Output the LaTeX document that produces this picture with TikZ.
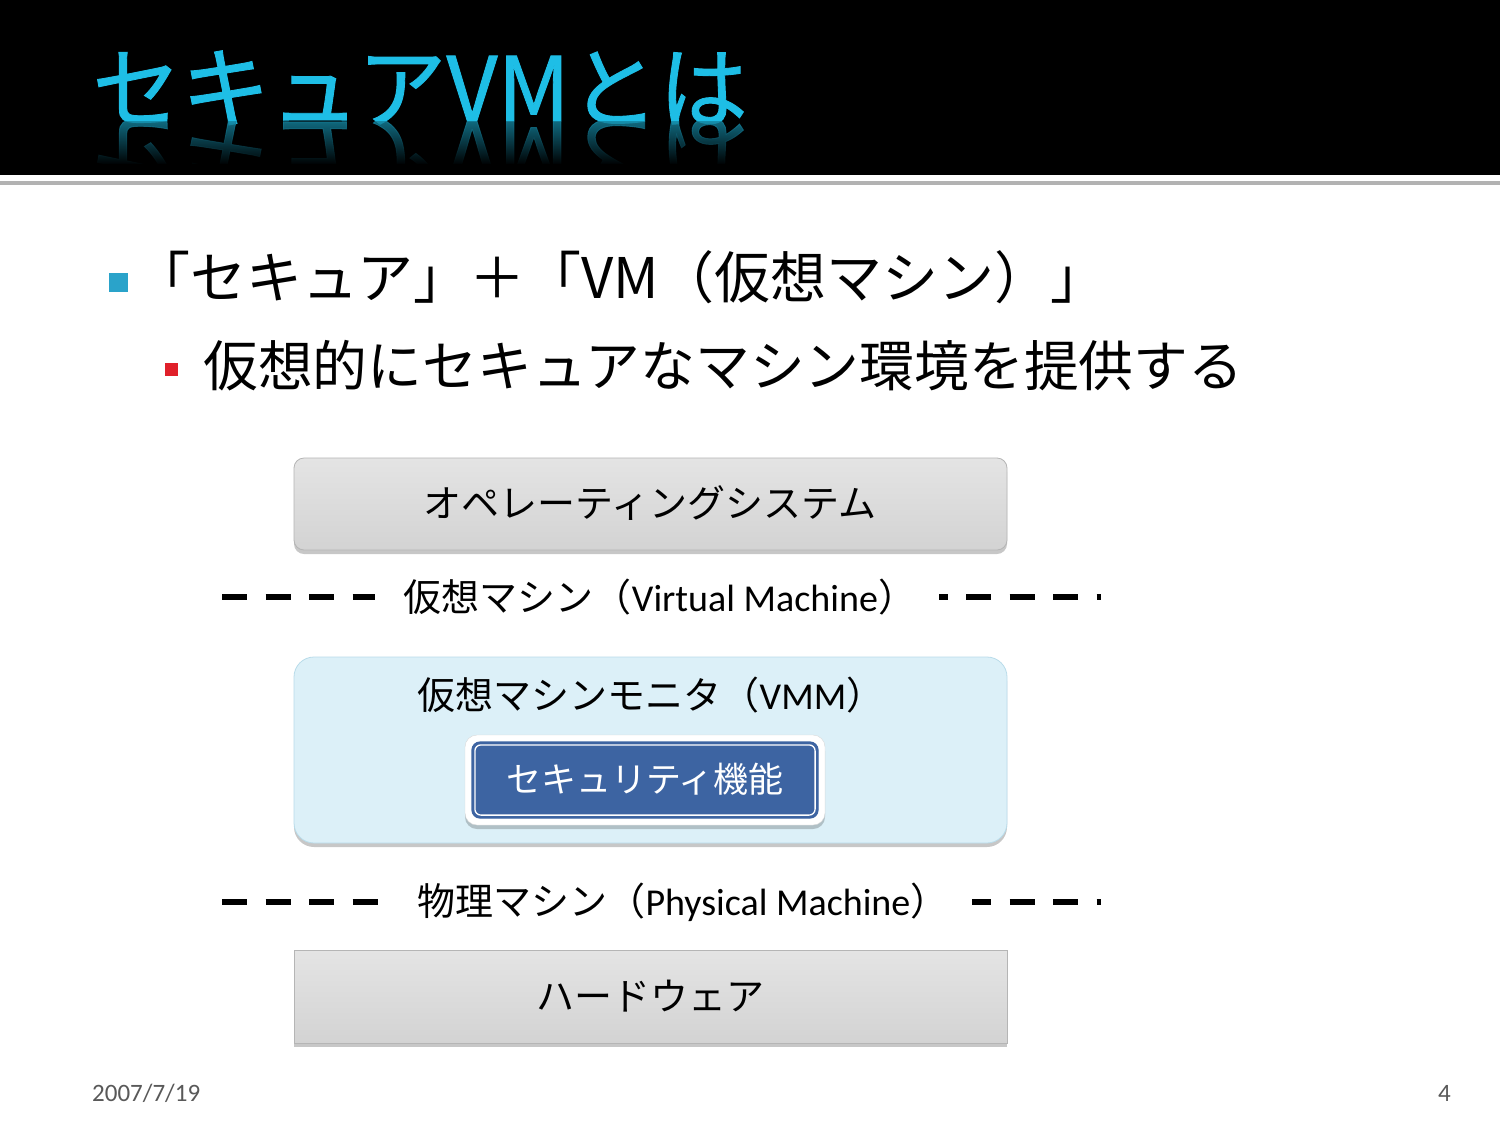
\documentclass[tikz,border=0pt]{standalone}
\usepackage{fontspec}
\setmainfont{Carlito}
\newfontfamily\jp{Noto Sans CJK JP}
\newfontfamily\jptitle[FakeBold=1]{Noto Sans CJK JP}
\usetikzlibrary{shadows,fadings}
\definecolor{titlecyan}{HTML}{1EBEE6}
\definecolor{bulletcyan}{HTML}{2AA3CA}
\definecolor{bulletred}{HTML}{E0202A}
\definecolor{boxgrayA}{HTML}{E4E4E4}
\definecolor{boxgrayB}{HTML}{D3D3D3}
\definecolor{boxedge}{HTML}{B5B5B5}
\definecolor{vmmfill}{HTML}{DCF0F8}
\definecolor{vmmedge}{HTML}{B9DCEA}
\definecolor{secblue}{HTML}{3D64A2}
\definecolor{footgray}{HTML}{595959}
\tikzset{
  layerbox/.style={draw=boxedge, line width=0.8pt, top color=boxgrayA, bottom color=boxgrayB,
    minimum width=713pt, inner sep=0pt,
    drop shadow={shadow xshift=0pt, shadow yshift=-4pt, opacity=0.22, fill=black}},
  boxtext/.style={font=\jp\fontsize{38pt}{42pt}\selectfont, text=black},
  seplabel/.style={fill=white, inner sep=2pt, font=\jp\fontsize{38pt}{42pt}\selectfont},
  sepline/.style={line width=6pt, dash pattern=on 25pt off 18.5pt},
}
\begin{document}
\begin{tikzpicture}[x=1pt,y=-1pt]
\useasboundingbox (0,0) rectangle (1500,1125);
\fill[white] (0,0) rectangle (1500,1125);
% header
\fill[black] (0,0) rectangle (1500,175);
\fill[black!30] (0,181) rectangle (1500,185);
\node[anchor=base west, inner sep=0pt, text=titlecyan, font=\jptitle\fontsize{89pt}{96pt}\selectfont] (title) at (92,121) {セキュアVMとは};
\begin{scope}
  \clip (0,121) rectangle (1500,172);
  \node[anchor=base west, inner sep=0pt, text=titlecyan!70!black, yscale=-1, transform shape, opacity=0.8,
        font=\jptitle\fontsize{89pt}{96pt}\selectfont] (titlerefl) at (92,121) {セキュアVMとは};
  \fill[black, path fading=north] (0,121) rectangle (1500,165);
  \fill[black] (0,164) rectangle (1500,175);
\end{scope}
% bullets
\node[fill=bulletcyan, minimum size=19pt, inner sep=0pt] (b1) at (118,282) {};
\node[anchor=west, inner sep=0pt, font=\jp\fontsize{56pt}{60pt}\selectfont] (t1) at (134,277) {「セキュア」＋「VM（仮想マシン）」};
\node[fill=bulletred, minimum size=13pt, inner sep=0pt] (b2) at (171.5,369) {};
\node[anchor=west, inner sep=0pt, font=\jp\fontsize{54.8pt}{60pt}\selectfont] (t2) at (203,366) {仮想的にセキュアなマシン環境を提供する};
% layers
\node[layerbox, rounded corners=10pt, minimum height=92pt] (os) at (650.5,504) {};
\node[boxtext] (ostext) at (650,503) {オペレーティングシステム};

\coordinate (vlA) at (222,597); \coordinate (vlB) at (375,597);
\coordinate (vrA) at (939,597); \coordinate (vrB) at (1101,597);
\draw[sepline] (vlA) -- (vlB);
\draw[sepline, dash phase=16.5pt] (vrA) -- (vrB);
\node[seplabel] (vmlabel) at (660,597) {仮想マシン（{\rmfamily Virtual Machine}）};

\node[draw=vmmedge, line width=0.8pt, fill=vmmfill, rounded corners=20pt, minimum width=713pt, minimum height=186pt, inner sep=0pt,
      drop shadow={shadow xshift=0pt, shadow yshift=-4pt, opacity=0.22, fill=black}] (vmm) at (650.5,750) {};
\node[boxtext] (vmmtext) at (651,695) {仮想マシンモニタ（{\rmfamily VMM}）};
\node[draw=black!15, fill=white, rounded corners=12pt, minimum width=360pt, minimum height=90pt, inner sep=0pt,
      drop shadow={shadow xshift=0pt, shadow yshift=-4pt, opacity=0.2, fill=black}] (secout) at (645,780) {};
\node[draw=secblue, line width=1.2pt, fill=secblue, rounded corners=8pt, minimum width=346pt, minimum height=76pt, inner sep=0pt] (sec) at (645,780) {};
\draw[white, line width=1.3pt, rounded corners=6pt] ([shift={(3.5pt,-3.5pt)}]sec.north west) rectangle ([shift={(-3.5pt,3.5pt)}]sec.south east);
\node[boxtext, text=white, font=\jp\fontsize{35pt}{40pt}\selectfont] (sectext) at (645,779) {セキュリティ機能};

\coordinate (plA) at (222,902); \coordinate (plB) at (378,902);
\coordinate (prA) at (972,902); \coordinate (prB) at (1101,902);
\draw[sepline] (plA) -- (plB);
\draw[sepline, dash phase=6pt] (prA) -- (prB);
\node[seplabel] (pmlabel) at (683,902) {物理マシン（{\rmfamily Physical Machine}）};

\node[layerbox, minimum height=93pt] (hw) at (650.5,996.5) {};
\node[boxtext] (hwtext) at (650,996) {ハードウェア};

% footer
\node[anchor=west, inner sep=0pt, text=footgray, font=\fontsize{25pt}{28pt}\selectfont] (date) at (92,1093) {2007/7/19};
\node[anchor=east, inner sep=0pt, text=footgray, font=\fontsize{25pt}{28pt}\selectfont] (page) at (1451,1093) {4};
\end{tikzpicture}
\end{document}
